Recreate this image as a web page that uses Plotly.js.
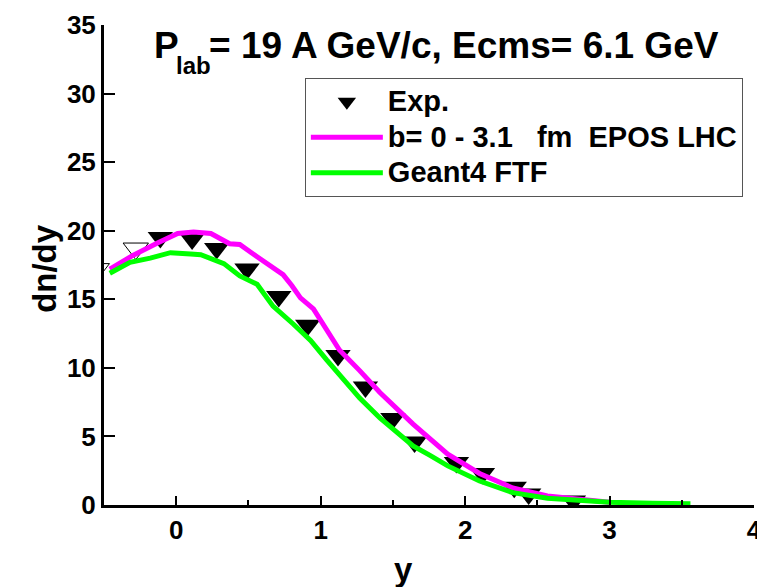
<!DOCTYPE html>
<html>
<head>
<meta charset="utf-8">
<script src="https://cdn.plot.ly/plotly-3.0.1.min.js"></script>
<style>html,body{margin:0;padding:0;background:#fff;}#chart{width:757px;height:587px;}</style>
</head>
<body>
<div id="chart"></div>
<script>
// Experimental points (filled) and reflected points (open)
const expX = [-0.11, 0.11, 0.28, 0.49, 0.71, 0.91, 1.12, 1.31, 1.50, 1.65, 1.94, 2.12, 2.34, 2.44, 2.75];
const expY = [19.5, 19.4, 18.7, 17.2, 15.2, 13.1, 10.9, 8.6, 6.3, 4.6, 3.1, 2.3, 1.3, 0.8, 0.3];
const reflX = [-0.28, -0.55];
const reflY = [18.7, 17.2];
// EPOS LHC curve
const eposX = [-0.46, -0.30, -0.13, 0.01, 0.12, 0.24, 0.37, 0.44, 0.56, 0.66, 0.74, 0.80, 0.86, 0.95, 1.04, 1.13, 1.27, 1.41, 1.64, 1.88, 2.10, 2.33, 2.57, 2.82, 3.0];
const eposY = [17.2, 18.2, 19.1, 19.8, 19.9, 19.8, 19.05, 19.0, 18.1, 17.4, 16.8, 16.0, 15.1, 14.3, 12.8, 11.3, 9.8, 8.2, 5.9, 3.7, 2.3, 1.24, 0.66, 0.36, 0.2];
// Geant4 FTF curve
const ftfX = [-0.46, -0.32, -0.18, -0.04, 0.10, 0.17, 0.33, 0.44, 0.56, 0.67, 0.81, 0.93, 1.04, 1.16, 1.27, 1.41, 1.53, 1.64, 1.76, 1.88, 2.10, 2.33, 2.57, 2.75, 3.0, 3.3, 3.56];
const ftfY = [16.9, 17.7, 18.0, 18.4, 18.3, 18.25, 17.6, 16.7, 16.1, 14.5, 13.2, 12.0, 10.6, 9.2, 7.8, 6.35, 5.25, 4.3, 3.6, 2.85, 1.75, 0.9, 0.5, 0.35, 0.2, 0.12, 0.1];
// Axis tick values
const xTicks = [0, 1, 2, 3, 4];
const yTicks = [0, 5, 10, 15, 20, 25, 30, 35];
// Legend labels
const legendNames = ['Exp.', 'b= 0 - 3.1&nbsp;&nbsp; fm&nbsp; EPOS LHC', 'Geant4 FTF'];

const F = 'Liberation Sans, Arial, sans-serif';
const big = s => '<span style="font-size:29px">' + s + '</span>';

const traces = [
  {x: expX, y: expY, type: 'scatter', mode: 'markers', name: big(legendNames[0]),
   marker: {symbol: 'triangle-down', size: 22, color: '#000', line: {width: 0}}},
  {x: reflX, y: reflY, type: 'scatter', mode: 'markers', showlegend: false,
   marker: {symbol: 'triangle-down-open', size: 22, color: '#000', line: {width: 1, color: '#000'}}},
  {x: eposX, y: eposY, type: 'scatter', mode: 'lines', name: big(legendNames[1]),
   line: {color: '#FF00FF', width: 5}},
  {x: ftfX, y: ftfY, type: 'scatter', mode: 'lines', name: big(legendNames[2]),
   line: {color: '#00FF00', width: 5}}
];

const layout = {
  width: 757, height: 587,
  margin: {l: 104, r: 3, t: 25, b: 82},
  paper_bgcolor: '#fff', plot_bgcolor: '#fff',
  showlegend: true,
  font: {family: F, color: '#000'},
  xaxis: {
    range: [-0.5, 4], tickvals: xTicks, ticktext: xTicks.map(String),
    showgrid: false, zeroline: false, showline: true, linewidth: 3, linecolor: '#000',
    ticks: 'inside', ticklen: 9, tickwidth: 2, tickcolor: '#000',
    minor: {dtick: 0.5, tick0: 0, ticks: 'inside', ticklen: 5, tickwidth: 2, tickcolor: '#000', showgrid: false},
    tickfont: {family: F, size: 26, color: '#000', weight: 'bold'},
    ticklabeloverflow: 'allow',
    fixedrange: true
  },
  yaxis: {
    range: [0, 35], tickvals: yTicks, ticktext: yTicks.map(String),
    showgrid: false, zeroline: false, showline: true, linewidth: 3, linecolor: '#000',
    ticks: 'inside', ticklen: 11, tickwidth: 2, tickcolor: '#000',
    tickfont: {family: F, size: 26, color: '#000', weight: 'bold'},
    ticklabeloverflow: 'allow',
    fixedrange: true
  },
  legend: {
    x: 0.309, y: 0.8896, xanchor: 'left', yanchor: 'top',
    bgcolor: '#fff', bordercolor: '#555', borderwidth: 1,
    font: {family: F, size: 25, color: '#000', weight: 'bold'},
    itemwidth: 72, tracegroupgap: 0
  },
  annotations: [
    {xref: 'paper', yref: 'paper', x: 0.0738, y: 0.958, xanchor: 'left', yanchor: 'middle', showarrow: false,
     text: 'P', font: {family: F, size: 37, color: '#000', weight: 'bold'}},
    {xref: 'paper', yref: 'paper', x: 0.1077, y: 0.9156, xanchor: 'left', yanchor: 'middle', showarrow: false,
     text: 'lab', font: {family: F, size: 24, color: '#000', weight: 'bold'}},
    {xref: 'paper', yref: 'paper', x: 0.1585, y: 0.958, xanchor: 'left', yanchor: 'middle', showarrow: false,
     text: '= 19 A GeV/c, Ecms= 6.1 GeV',
     font: {family: F, size: 37, color: '#000', weight: 'bold'}},
    {xref: 'paper', yref: 'paper', x: 0.46, y: -0.135, xanchor: 'center', yanchor: 'middle', showarrow: false,
     text: 'y', font: {family: F, size: 33, color: '#000', weight: 'bold'}},
    {xref: 'paper', yref: 'paper', x: -0.0908, y: 0.494, xanchor: 'center', yanchor: 'middle', showarrow: false,
     text: 'dn/dy', textangle: -90, font: {family: F, size: 33, color: '#000', weight: 'bold'}}
  ]
};

Plotly.newPlot('chart', traces, layout, {staticPlot: true});
</script>
</body>
</html>
